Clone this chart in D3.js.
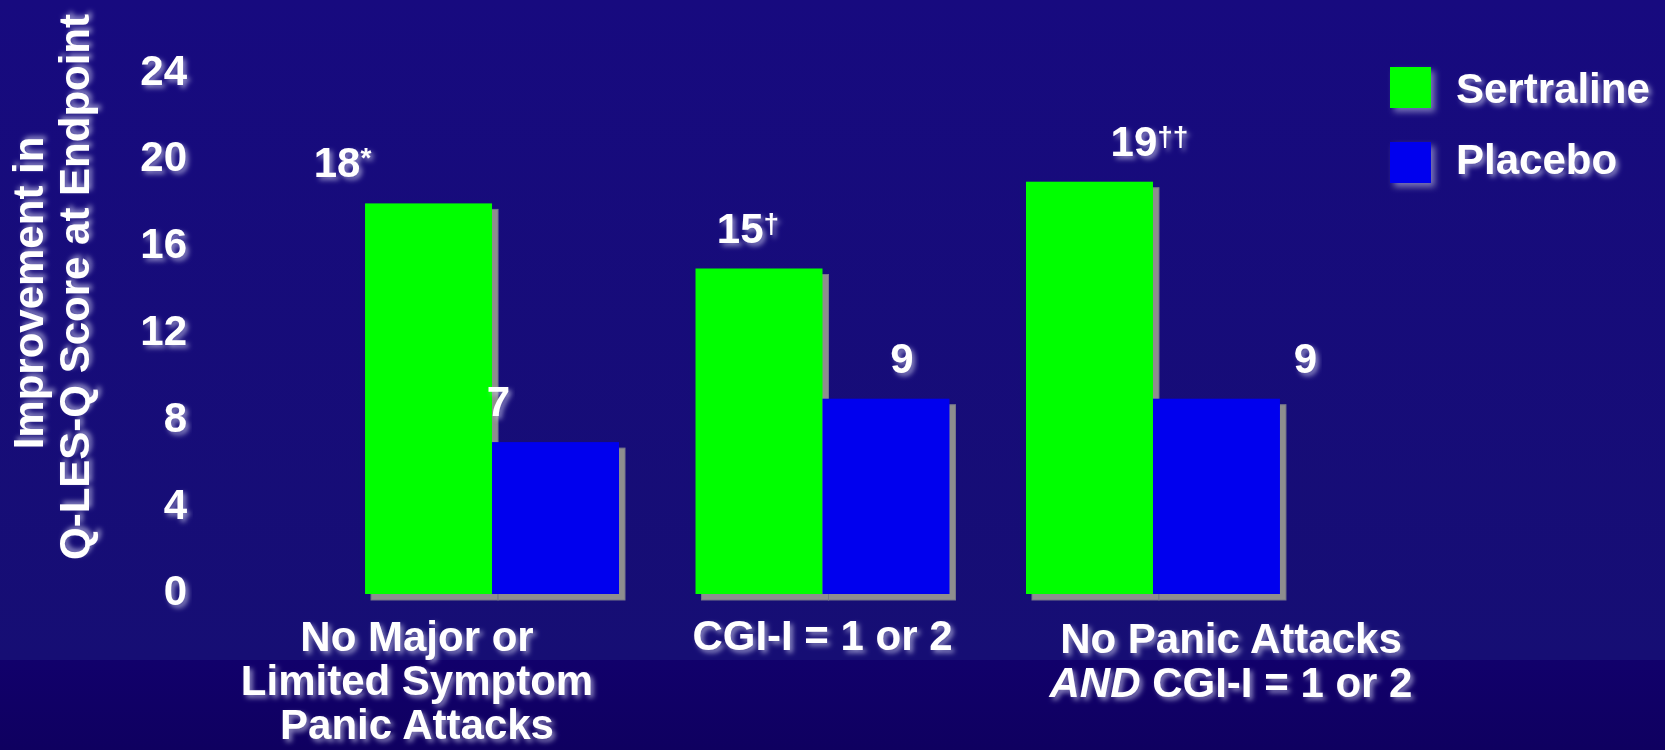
<!DOCTYPE html>
<html>
<head>
<meta charset="utf-8">
<script src="https://cdn.jsdelivr.net/npm/d3@7/dist/d3.min.js"></script>
<style>
  html, body { margin: 0; padding: 0; background: #150a7a; }
  svg { display: block; }
  text { font-family: "Liberation Sans", Arial, Helvetica, sans-serif; font-weight: bold; fill: #ffffff; }
</style>
</head>
<body>
<script>
// ---- data ----
const categories = [
  ["No Major or", "Limited Symptom", "Panic Attacks"],
  ["CGI-I = 1 or 2"],
  ["No Panic Attacks", "AND CGI-I = 1 or 2"]
];
const seriesNames = ["Sertraline", "Placebo"];
const sertraline = [18, 15, 19];
const placebo = [7, 9, 9];
const sertralineMarks = ["*", "\u2020", "\u2020\u2020"];
const placeboMarks = ["", "", ""];
const yTicks = [0, 4, 8, 12, 16, 20, 24];
const yTitle = ["Improvement in", "Q-LES-Q Score at Endpoint"];
const italicWords = ["AND"];

// ---- layout ----
const W = 1665, H = 750;
const colors = { Sertraline: "#00ff00", Placebo: "#0000ee" };
const valueLabelDx = { Sertraline: [-86, -11, 60], Placebo: [-57, 16, 89] };
const categoryDx = [-75, 0, 78];
const categoryFirstBaseline = [651, 650, 653];
const lineHeight = 44;
const fontSize = 42;

const svg = d3.select("body").append("svg")
  .attr("width", W).attr("height", H);

const defs = svg.append("defs");

// background: indigo field with a darker band along the bottom
const bgTop = defs.append("linearGradient").attr("id", "bgTop")
  .attr("x1", 0).attr("y1", 0).attr("x2", 0).attr("y2", 1);
bgTop.append("stop").attr("offset", "0%").attr("stop-color", "#170a7f");
bgTop.append("stop").attr("offset", "100%").attr("stop-color", "#160e74");
const bgBottom = defs.append("linearGradient").attr("id", "bgBottom")
  .attr("x1", 0).attr("y1", 0).attr("x2", 0).attr("y2", 1);
bgBottom.append("stop").attr("offset", "0%").attr("stop-color", "#11006b");
bgBottom.append("stop").attr("offset", "100%").attr("stop-color", "#0f0060");

// soft light glow behind white text
const glow = defs.append("filter").attr("id", "glow")
  .attr("x", "-20%").attr("y", "-40%").attr("width", "140%").attr("height", "180%");
glow.append("feGaussianBlur").attr("in", "SourceAlpha").attr("stdDeviation", 2.8).attr("result", "blur");
glow.append("feOffset").attr("in", "blur").attr("dx", 3).attr("dy", 3).attr("result", "off");
glow.append("feFlood").attr("flood-color", "#d6d6f2").attr("flood-opacity", 0.6).attr("result", "col");
glow.append("feComposite").attr("in", "col").attr("in2", "off").attr("operator", "in").attr("result", "shadow");
const gm = glow.append("feMerge");
gm.append("feMergeNode").attr("in", "shadow");
gm.append("feMergeNode").attr("in", "SourceGraphic");

const boxGlow = defs.append("filter").attr("id", "boxGlow")
  .attr("x", "-30%").attr("y", "-30%").attr("width", "170%").attr("height", "170%");
boxGlow.append("feDropShadow").attr("dx", 4).attr("dy", 4).attr("stdDeviation", 3)
  .attr("flood-color", "#c8c8e6").attr("flood-opacity", 0.55);

svg.append("rect").attr("x", 0).attr("y", 0).attr("width", W).attr("height", 660).attr("fill", "url(#bgTop)");
svg.append("rect").attr("x", 0).attr("y", 660).attr("width", W).attr("height", H - 660).attr("fill", "url(#bgBottom)");

// ---- scales ----
const x = d3.scaleBand()
  .domain(d3.range(categories.length))
  .range([312.5, 1332.5])
  .paddingInner(0.2315)
  .paddingOuter(0.159);
const xs = d3.scaleBand().domain(seriesNames).range([0, x.bandwidth()]);
const y = d3.scaleLinear().domain([0, 24]).range([594, 594 - 24 * 21.7]);

// ---- y axis (labels only) ----
const yAxis = d3.axisLeft(y).tickValues(yTicks).tickSize(0).tickPadding(0);
const gy = svg.append("g").attr("transform", "translate(187,0)").call(yAxis);
gy.select(".domain").remove();
gy.selectAll("text")
  .attr("dy", "0.26em")
  .attr("fill", "#ffffff")
  .style("font-family", "\"Liberation Sans\", Arial, sans-serif")
  .style("font-weight", "bold")
  .style("font-size", fontSize + "px")
  .attr("filter", "url(#glow)");

// y axis title, two rotated lines
const titleBaselines = [43, 89];
const titleCenters = [293, 287];
svg.append("g").selectAll("text").data(yTitle).join("text")
  .attr("transform", (d, i) => `translate(${titleBaselines[i]},${titleCenters[i]}) rotate(-90)`)
  .attr("text-anchor", "middle")
  .style("font-size", fontSize + "px")
  .attr("filter", "url(#glow)")
  .text(d => d);

// ---- bars ----
const rows = [];
categories.forEach((c, i) => {
  rows.push({ cat: i, series: "Sertraline", value: sertraline[i], mark: sertralineMarks[i] });
  rows.push({ cat: i, series: "Placebo", value: placebo[i], mark: placeboMarks[i] });
});
const bx = d => x(d.cat) + xs(d.series);

svg.append("g").selectAll("rect").data(rows).join("rect")
  .attr("x", d => bx(d) + 6)
  .attr("y", d => y(d.value) + 6)
  .attr("width", xs.bandwidth())
  .attr("height", d => y(0) - y(d.value))
  .attr("fill", "#8e8e8e")
  .attr("stroke", "#76768a")
  .attr("stroke-width", 1);

svg.append("g").selectAll("rect").data(rows).join("rect")
  .attr("x", d => bx(d))
  .attr("y", d => y(d.value))
  .attr("width", xs.bandwidth())
  .attr("height", d => y(0) - y(d.value))
  .attr("fill", d => colors[d.series]);

// value labels with superscript significance marks
const vl = svg.append("g").selectAll("text").data(rows).join("text")
  .attr("x", d => bx(d) + xs.bandwidth() / 2 + valueLabelDx[d.series][d.cat])
  .attr("y", d => y(d.value) - 26)
  .attr("text-anchor", "middle")
  .style("font-size", fontSize + "px")
  .attr("filter", "url(#glow)");
vl.append("tspan").text(d => d.value);
vl.filter(d => d.mark).append("tspan")
  .attr("dy", -10)
  .style("font-size", "28px")
  .text(d => d.mark);

// ---- category labels ----
const catG = svg.append("g").selectAll("text").data(categories).join("text")
  .attr("text-anchor", "middle")
  .style("font-size", fontSize + "px")
  .attr("filter", "url(#glow)")
  .attr("transform", (d, i) => `translate(${x(i) + x.bandwidth() / 2 + categoryDx[i]},${categoryFirstBaseline[i]})`);
catG.each(function(lines) {
  const t = d3.select(this);
  lines.forEach((line, li) => {
    const parts = line.split(new RegExp(`\\b(${italicWords.join("|")})\\b`)).filter(p => p.length);
    parts.forEach((p, pi) => {
      const ts = t.append("tspan").text(p);
      if (pi === 0) ts.attr("x", 0).attr("y", li * lineHeight);
      if (italicWords.includes(p)) ts.style("font-style", "italic");
    });
  });
});

// ---- legend ----
const legend = svg.append("g").selectAll("g").data(seriesNames).join("g")
  .attr("transform", (d, i) => `translate(1390,${67 + i * 75})`);
legend.append("rect")
  .attr("width", 41).attr("height", 41)
  .attr("fill", d => colors[d])
  .attr("filter", "url(#boxGlow)");
legend.append("text")
  .attr("x", 66).attr("y", (d, i) => 36 - i * 4)
  .style("font-size", fontSize + "px")
  .attr("filter", "url(#glow)")
  .text(d => d);
</script>
</body>
</html>
